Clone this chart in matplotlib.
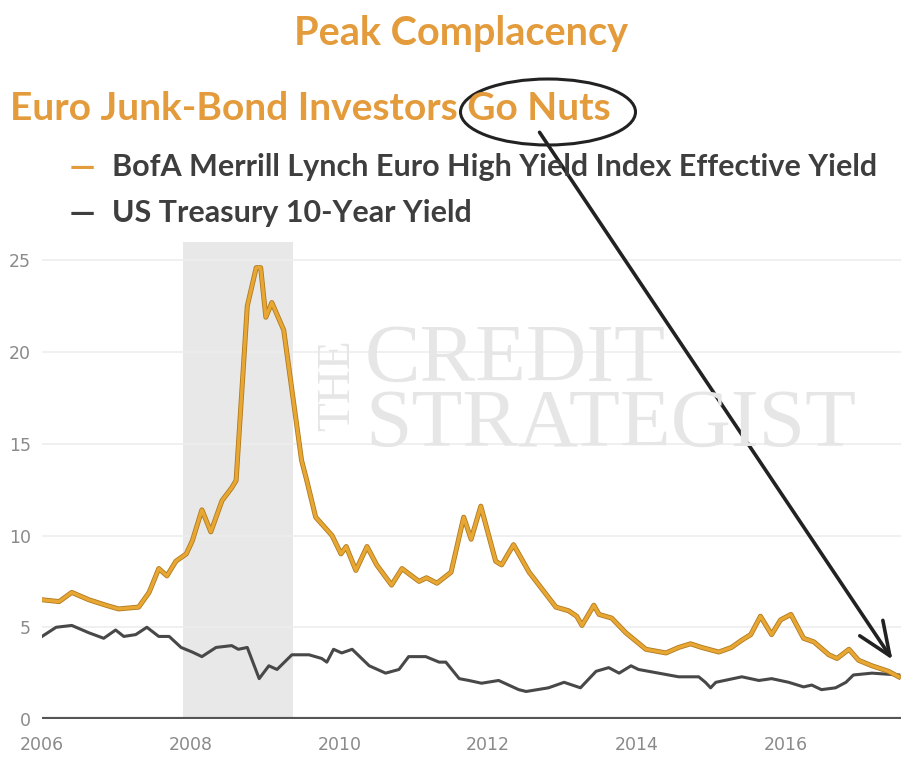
import matplotlib
matplotlib.use("Agg")
import matplotlib.pyplot as plt
import matplotlib.patheffects as pe
from matplotlib.patches import Ellipse, FancyArrowPatch

# Euro high yield effective yield (decimal year, %)
hy_years = [2006.00, 2006.23, 2006.40, 2006.63, 2006.86, 2007.03, 2007.30, 2007.44, 2007.57,
            2007.68, 2007.80, 2007.94, 2008.02, 2008.15, 2008.27, 2008.42, 2008.55, 2008.61,
            2008.76, 2008.88, 2008.94, 2009.01, 2009.09, 2009.25, 2009.49, 2009.56, 2009.68,
            2009.90, 2010.02, 2010.09, 2010.22, 2010.37, 2010.50, 2010.70, 2010.84, 2011.07,
            2011.17, 2011.31, 2011.50, 2011.67, 2011.77, 2011.90, 2012.10, 2012.18, 2012.34,
            2012.55, 2012.91, 2013.08, 2013.19, 2013.26, 2013.42, 2013.49, 2013.66, 2013.85,
            2014.12, 2014.39, 2014.56, 2014.72, 2014.87, 2015.10, 2015.27, 2015.41, 2015.53,
            2015.66, 2015.81, 2015.93, 2016.07, 2016.24, 2016.38, 2016.58, 2016.69, 2016.85,
            2016.98, 2017.16, 2017.38, 2017.52]
hy_yield = [6.5, 6.4, 6.9, 6.5, 6.2, 6.0, 6.1, 6.9, 8.2,
            7.8, 8.6, 9.0, 9.7, 11.4, 10.2, 11.9, 12.6, 13.0,
            22.5, 24.6, 24.6, 21.9, 22.7, 21.2, 14.1, 13.0, 11.0,
            10.0, 9.0, 9.4, 8.1, 9.4, 8.4, 7.3, 8.2, 7.5,
            7.7, 7.4, 8.0, 11.0, 9.8, 11.6, 8.6, 8.4, 9.5,
            8.0, 6.1, 5.9, 5.6, 5.1, 6.2, 5.7, 5.5, 4.7,
            3.8, 3.6, 3.9, 4.1, 3.9, 3.65, 3.9, 4.3, 4.6,
            5.6, 4.6, 5.4, 5.7, 4.4, 4.2, 3.5, 3.3, 3.8,
            3.2, 2.9, 2.6, 2.3]

# US Treasury 10-year yield
ust_years = [2006.00, 2006.19, 2006.40, 2006.63, 2006.83, 2006.99, 2007.10, 2007.26, 2007.41,
             2007.57, 2007.71, 2007.87, 2008.02, 2008.15, 2008.34, 2008.55, 2008.64, 2008.76,
             2008.92, 2009.05, 2009.16, 2009.36, 2009.59, 2009.76, 2009.83, 2009.92, 2010.03,
             2010.17, 2010.40, 2010.62, 2010.80, 2010.93, 2011.16, 2011.34, 2011.43, 2011.61,
             2011.74, 2011.91, 2012.14, 2012.41, 2012.51, 2012.81, 2013.02, 2013.24, 2013.45,
             2013.62, 2013.76, 2013.92, 2014.02, 2014.29, 2014.56, 2014.83, 2014.92, 2014.99,
             2015.06, 2015.41, 2015.64, 2015.81, 2016.04, 2016.24, 2016.35, 2016.48, 2016.67,
             2016.81, 2016.91, 2017.16, 2017.52]
ust_yield = [4.5, 5.0, 5.1, 4.7, 4.4, 4.85, 4.5, 4.6, 5.0,
             4.5, 4.5, 3.9, 3.65, 3.4, 3.9, 4.0, 3.8, 3.9,
             2.2, 2.9, 2.7, 3.5, 3.5, 3.3, 3.1, 3.8, 3.6,
             3.8, 2.9, 2.5, 2.7, 3.4, 3.4, 3.1, 3.1, 2.2,
             2.1, 1.95, 2.1, 1.6, 1.5, 1.7, 2.0, 1.7, 2.6,
             2.8, 2.5, 2.9, 2.7, 2.5, 2.3, 2.3, 2.0, 1.7,
             2.0, 2.3, 2.1, 2.2, 2.0, 1.75, 1.85, 1.6, 1.7,
             2.0, 2.4, 2.5, 2.4]

recession = (2007.9, 2009.38)
y_ticks = [0, 5, 10, 15, 20, 25]
x_ticks = [2006, 2008, 2010, 2012, 2014, 2016]

orange = "#E39B3B"
dark = "#3e3e3e"
W, H = 901, 758
fig = plt.figure(figsize=(W / 100, H / 100), dpi=100)
fig.patch.set_facecolor("white")

ax = fig.add_axes([42 / W, 39 / H, 1 - 42 / W, 477 / H])
ax.set_xlim(2006, 2017.55)
ax.set_ylim(0, 26)
for s in ax.spines.values():
    s.set_visible(False)

ax.axvspan(*recession, color="#e8e8e8", zorder=0, lw=0)
for t in y_ticks[1:]:
    ax.axhline(t, color="#eeeeee", lw=1.2, zorder=0.5)
ax.axhline(0, color="#555555", lw=3, zorder=3)

# watermark
wm = dict(family="Liberation Serif", color="#e6e6e6", zorder=1)
fig.text(365 / W, 1 - 446 / H, "CREDIT\nSTRATEGIST", fontsize=60, linespacing=0.82,
         ha="left", va="baseline", **wm)
fig.text(338 / W, 1 - 385 / H, "THE", fontsize=34, rotation=90, ha="center", va="center", **wm)

ax.plot(ust_years, ust_yield, color="#484848", lw=2.2, zorder=4)
ax.plot(hy_years, hy_yield, color="#E8A733", lw=2.4, zorder=5,
        path_effects=[pe.Stroke(linewidth=3.6, foreground="#B07A20"), pe.Normal()])

ax.set_yticks(y_ticks)
ax.set_xticks(x_ticks)
ax.tick_params(length=0, colors="#8a8a8a", labelsize=12.5)
ax.tick_params(axis="y", pad=8)
ax.tick_params(axis="x", pad=12)

# titles and legend
fig.text(461 / W, 1 - 45 / H, "Peak Complacency", color=orange, fontsize=28.5,
         fontweight="bold", family="Lato", ha="center", va="baseline")
fig.text(10 / W, 1 - 120 / H, "Euro Junk-Bond Investors Go Nuts", color=orange, fontsize=28,
         fontweight="bold", family="Lato", ha="left", va="baseline")
fig.text(70 / W, 1 - 167 / H, "\u2014", color=orange, fontsize=18, fontweight="bold",
         ha="left", va="center")
fig.text(112 / W, 1 - 176 / H, "BofA Merrill Lynch Euro High Yield Index Effective Yield",
         color=dark, fontsize=22, fontweight="bold", family="Lato", ha="left", va="baseline")
fig.text(70 / W, 1 - 213 / H, "\u2014", color=dark, fontsize=18, fontweight="bold",
         ha="left", va="center")
fig.text(112 / W, 1 - 222 / H, "US Treasury 10-Year Yield",
         color=dark, fontsize=22, fontweight="bold", family="Lato", ha="left", va="baseline")

# circle and arrow annotation
fig.add_artist(Ellipse((548 / W, 1 - 112 / H), 175 / W, 66 / H, fill=False,
                       ec="#222222", lw=2.2, transform=fig.transFigure))
fig.add_artist(FancyArrowPatch((538 / W, 1 - 130 / H), (894 / W, 1 - 662 / H),
                               transform=fig.transFigure,
                               arrowstyle="->,head_length=24,head_width=10",
                               color="#222222", lw=2.6, mutation_scale=1))

fig.savefig("out.png", dpi=100, facecolor="white")
